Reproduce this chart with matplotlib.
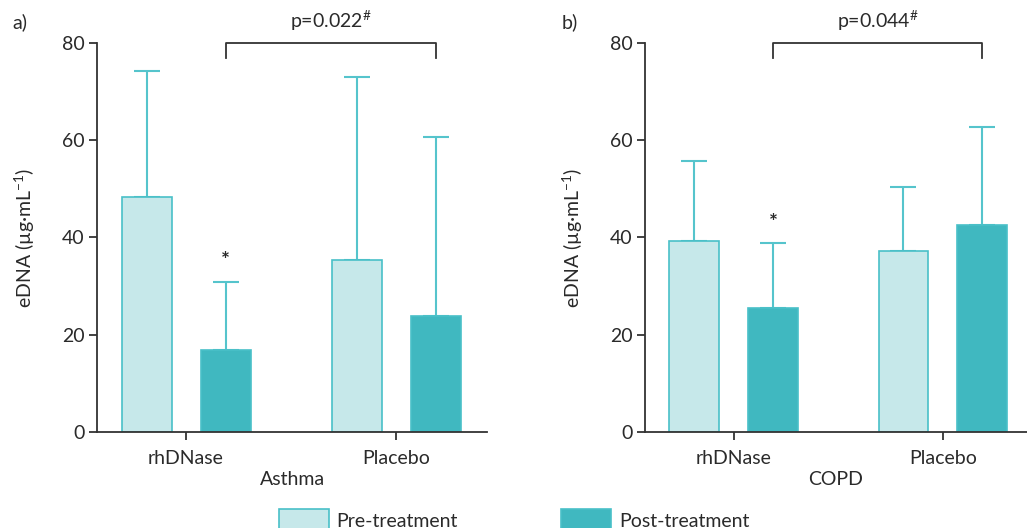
import matplotlib
matplotlib.use("Agg")
import matplotlib.pyplot as plt
from matplotlib.patches import Patch
import numpy as np

plt.rcParams['font.family'] = ['Lato', 'DejaVu Sans']
plt.rcParams['mathtext.fontset'] = 'custom'
plt.rcParams['mathtext.rm'] = 'Lato'

groups = ["rhDNase", "Placebo"]
series = ["Pre-treatment", "Post-treatment"]

asthma_mean = {"Pre-treatment": [48.3, 35.4], "Post-treatment": [16.8, 23.9]}
asthma_err_top = {"Pre-treatment": [74.3, 73.1], "Post-treatment": [30.8, 60.6]}
copd_mean = {"Pre-treatment": [39.2, 37.3], "Post-treatment": [25.4, 42.6]}
copd_err_top = {"Pre-treatment": [55.8, 50.4], "Post-treatment": [38.8, 62.7]}

panel_labels = ["a)", "b)"]
xlabels = ["Asthma", "COPD"]
p_texts = ["p=0.022$^{\\#}$", "p=0.044$^{\\#}$"]
star_y = [35.2, 43.0]

light = "#C6E8EA"
dark = "#40B8C0"
edge = "#49C0C8"
errc = "#55C4CC"
txt = "#2a2a2a"

W, H = 1027, 528
fig = plt.figure(figsize=(W / 100, H / 100), dpi=100)

def fx(px):
    return px / W

def fy(py):
    return 1 - py / H

axes_px = [(97, 487), (645, 1027)]
xr = [(-0.424, 1.433), (-0.424, 1.403)]
data = [(asthma_mean, asthma_err_top), (copd_mean, copd_err_top)]

bw = 0.238
off = 0.188
fs = 14

for i in range(2):
    l, r = axes_px[i]
    ax = fig.add_axes([fx(l), fy(432), fx(r) - fx(l), fy(43) - fy(432)])
    means, tops = data[i]
    x = np.arange(len(groups))
    for j, s in enumerate(series):
        xs = x + (-off if j == 0 else off)
        m = np.array(means[s])
        t = np.array(tops[s])
        ax.bar(xs, m, width=bw, color=light if j == 0 else dark,
               edgecolor=edge, linewidth=1.2, zorder=2)
        ax.errorbar(xs, m, yerr=[np.zeros_like(m), t - m], fmt='none',
                    ecolor=errc, elinewidth=1.5, capsize=9.4, capthick=1.5,
                    zorder=1, clip_on=False)
    ax.set_xlim(*xr[i])
    ax.set_ylim(0, 80)
    ax.set_yticks([0, 20, 40, 60, 80])
    ax.set_xticks(x)
    ax.set_xticklabels(groups)
    for sp in ["top", "right"]:
        ax.spines[sp].set_visible(False)
    for sp in ["left", "bottom"]:
        ax.spines[sp].set_color("#333333")
        ax.spines[sp].set_linewidth(1.3)
    ax.tick_params(axis='both', colors="#333333", labelcolor=txt,
                   labelsize=fs, length=6, width=1.3)
    ax.tick_params(axis='x', pad=7)
    ax.tick_params(axis='y', pad=3)
    ax.set_xlabel(xlabels[i], fontsize=fs, color=txt, labelpad=3)
    ax.set_ylabel("eDNA (µg·mL$^{-1}$)", fontsize=fs, color=txt, labelpad=18)
    # bracket
    x1 = x[0] + off
    x2 = x[1] + off
    ax.plot([x1, x1, x2, x2], [77.0, 80, 80, 77.0], color="#333333",
            lw=1.3, clip_on=False)
    ax.text((x1 + x2) / 2, 82.0, p_texts[i], ha='center', va='bottom',
            fontsize=fs, color=txt, clip_on=False)
    ax.text(x[0] + off, star_y[i], "*", ha='center', va='center',
            fontsize=15, fontweight='bold', color=txt)

fig.text(fx(12), fy(22), panel_labels[0], fontsize=fs, color=txt,
         ha='left', va='center')
fig.text(fx(562), fy(22), panel_labels[1], fontsize=fs, color=txt,
         ha='left', va='center')

handles = [Patch(facecolor=light, edgecolor=edge, linewidth=1.2),
           Patch(facecolor=dark, edgecolor=edge, linewidth=1.2)]
fig.legend(handles, series, loc='upper left',
           bbox_to_anchor=(fx(279), fy(509)), ncol=2, frameon=False,
           fontsize=fs, borderpad=0, borderaxespad=0, handlelength=2.57,
           handleheight=1.4, handletextpad=0.4, columnspacing=5.3,
           labelcolor=txt)

fig.savefig("out.png", dpi=100)
